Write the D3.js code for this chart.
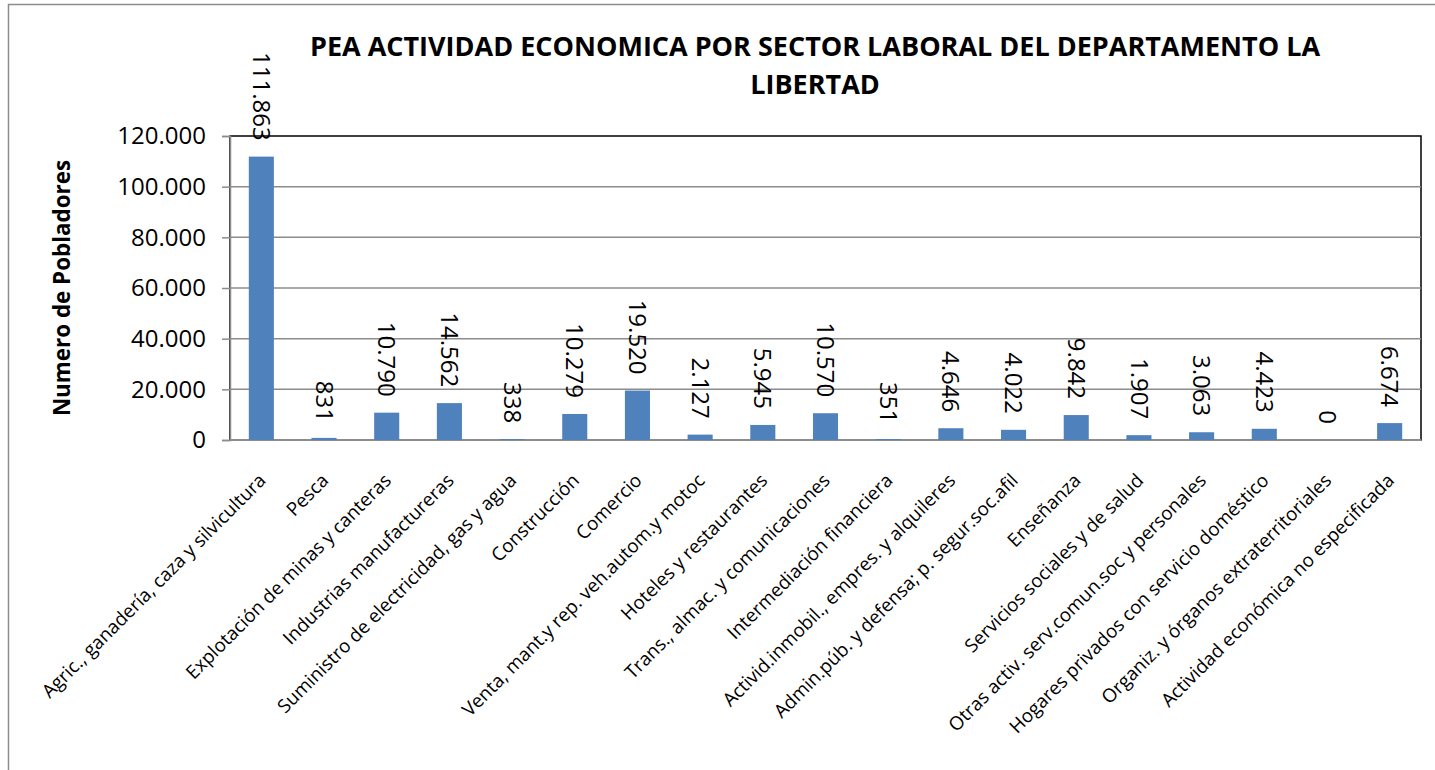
<!DOCTYPE html>
<html>
<head>
<meta charset="utf-8">
<script src="https://cdn.jsdelivr.net/npm/d3@7"></script>
<style>
  body { margin: 0; background: #fff; }
  text { font-family: "Open Sans", sans-serif; fill: #000; }
</style>
</head>
<body>
<svg width="1435" height="770"></svg>
<script>
// PEA por sector laboral - La Libertad
const sectores = [
  "Agric., ganadería, caza y silvicultura",
  "Pesca",
  "Explotación de minas y canteras",
  "Industrias manufactureras",
  "Suministro de electricidad, gas y agua",
  "Construcción",
  "Comercio",
  "Venta, mant.y rep. veh.autom.y motoc",
  "Hoteles y restaurantes",
  "Trans., almac. y comunicaciones",
  "Intermediación financiera",
  "Activid.inmobil., empres. y alquileres",
  "Admin.púb. y defensa; p. segur.soc.afil",
  "Enseñanza",
  "Servicios sociales y de salud",
  "Otras activ. serv.comun.soc y personales",
  "Hogares privados con servicio doméstico",
  "Organiz. y órganos extraterritoriales",
  "Actividad económica no especificada"
];
const pobladores = [111863, 831, 10790, 14562, 338, 10279, 19520, 2127, 5945, 10570,
                    351, 4646, 4022, 9842, 1907, 3063, 4423, 0, 6674];
const yTicks = [0, 20000, 40000, 60000, 80000, 100000, 120000];
const titulo = ["PEA ACTIVIDAD ECONOMICA POR SECTOR LABORAL DEL DEPARTAMENTO LA", "LIBERTAD"];
const tituloY = "Numero de Pobladores";

const svg = d3.select("svg");
const loc = d3.formatLocale({decimal: ",", thousands: ".", grouping: [3], currency: ["", ""]});
const fmt = loc.format(",d");

const plotL = 230, plotR = 1421, plotT = 136, plotB = 440;

// outer chart border
svg.append("rect")
  .attr("x", 8.5).attr("y", 4.5)
  .attr("width", 1440).attr("height", 800)
  .attr("fill", "none").attr("stroke", "#8c8c8c").attr("stroke-width", 1.5);

const x = d3.scaleBand().domain(sectores).range([plotL, plotR]).paddingInner(0.6).paddingOuter(0.3);
const y = d3.scaleLinear().domain([0, 120000]).range([plotB, plotT]);

// plot area border
svg.append("rect")
  .attr("x", plotL).attr("y", plotT)
  .attr("width", plotR - plotL).attr("height", plotB - plotT)
  .attr("fill", "none").attr("stroke", "#000").attr("stroke-width", 1.5);

// gridlines
svg.append("g").selectAll("line")
  .data(yTicks.slice(1, -1))
  .join("line")
  .attr("x1", plotL).attr("x2", plotR)
  .attr("y1", d => y(d)).attr("y2", d => y(d))
  .attr("stroke", "#8c8c8c").attr("stroke-width", 1.5);

// y axis
const yAxis = svg.append("g")
  .attr("transform", `translate(${plotL},0)`)
  .call(d3.axisLeft(y).tickValues(yTicks).tickFormat(fmt).tickSize(8).tickPadding(16));
yAxis.select(".domain").attr("stroke", "#8c8c8c").attr("stroke-width", 1.5);
yAxis.selectAll(".tick line").attr("stroke", "#8c8c8c").attr("stroke-width", 1.5);
yAxis.selectAll(".tick text").style("font-size", "24px").attr("fill", "#000")
  .style("font-family", "'Open Sans', sans-serif");

// x axis line
svg.append("line")
  .attr("x1", plotL).attr("x2", plotR)
  .attr("y1", plotB).attr("y2", plotB)
  .attr("stroke", "#8c8c8c").attr("stroke-width", 2);

// bars
svg.append("g").selectAll("rect")
  .data(pobladores)
  .join("rect")
  .attr("x", (d, i) => x(sectores[i]))
  .attr("width", x.bandwidth())
  .attr("y", d => y(d))
  .attr("height", d => plotB - y(d))
  .attr("fill", "#4f81bd");

// value labels, rotated 90
svg.append("g").selectAll("text")
  .data(pobladores)
  .join("text")
  .attr("transform", (d, i) => `translate(${x(sectores[i]) + x.bandwidth() / 2},${y(d) - 16}) rotate(90)`)
  .attr("text-anchor", "end")
  .attr("dy", "0.35em")
  .style("font-size", "24px")
  .text(d => fmt(d));

// category labels, rotated -45
svg.append("g").selectAll("text")
  .data(sectores)
  .join("text")
  .attr("transform", d => `translate(${x(d) + x.bandwidth() / 2 + 1},${plotB + 37}) rotate(-45)`)
  .attr("text-anchor", "end")
  .attr("dy", "0.35em")
  .style("font-size", "18.8px")
  .text(d => d);

// title
svg.append("g").selectAll("text")
  .data(titulo)
  .join("text")
  .attr("x", 815)
  .attr("y", (d, i) => 56 + i * 38)
  .attr("text-anchor", "middle")
  .style("font-size", "27px")
  .style("font-weight", "bold")
  .text(d => d);

// y title
svg.append("text")
  .attr("transform", "translate(62,288) rotate(-90)")
  .attr("text-anchor", "middle")
  .attr("dy", "0.35em")
  .style("font-size", "22.4px")
  .style("font-weight", "bold")
  .text(tituloY);
</script>
</body>
</html>
